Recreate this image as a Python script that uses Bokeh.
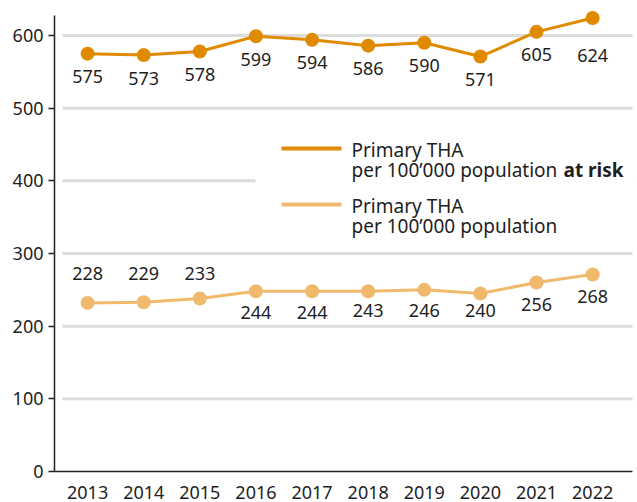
from bokeh.plotting import figure
from bokeh.models import Range1d
from bokeh.embed import file_html
from bokeh.resources import INLINE
from bokeh.core.properties import value

# ---- data ----
years = [2013, 2014, 2015, 2016, 2017, 2018, 2019, 2020, 2021, 2022]
at_risk = [575, 573, 578, 599, 594, 586, 590, 571, 605, 624]
population = [232, 233, 238, 248, 248, 248, 250, 245, 260, 271]
population_labels = ["228", "229", "233", "244", "244", "243", "246", "240", "256", "268"]
y_ticks = [0, 100, 200, 300, 400, 500, 600]
legend_line1 = "Primary THA"
legend_risk_a = "per 100\u2019000 population"
legend_risk_b = "at risk"
legend_pop = "per 100\u2019000 population"

# ---- style ----
DARK = "#E08A00"
LIGHT = "#F0B96C"
GRID = "#DCDCDC"
TXT = "#1E1E1E"
FONT = "Noto Sans"
FS = "18px"
LFS = "19px"

W, H = 637, 502
FL, FR, FT, FB = 54, 632, 0, 471        # frame edges, canvas px
AXIS_TOP = 627.5                          # top of drawn y axis (value)
PX_PER_UNIT = (471 - 15) / AXIS_TOP
X0, X1 = 2012.41, 2022.71
Y0, Y1 = 0, (FB - FT) / PX_PER_UNIT

def X(px):
    return X0 + (px - FL) * (X1 - X0) / (FR - FL)

def Y(py):
    return Y0 + (FB - py) / PX_PER_UNIT

p = figure(width=W, height=H, output_backend="svg", toolbar_location=None,
           x_range=Range1d(X0, X1), y_range=Range1d(Y0, Y1),
           min_border_left=FL, min_border_right=W - FR,
           min_border_top=FT, min_border_bottom=H - FB)
p.outline_line_color = None
p.xgrid.visible = False
p.ygrid.visible = False
p.background_fill_color = "white"

# grid lines
gy = [t for t in y_ticks if t > 0]
p.segment(x0=[X(62)] * len(gy), x1=[X(634)] * len(gy), y0=gy, y1=gy,
          line_color=GRID, line_width=3)

# legend background box (covers grid)
p.quad(left=[X(255)], right=[X(640)], top=[Y(128)], bottom=[Y(240)],
       fill_color="white", line_color=None)

# series
p.line(years, at_risk, line_color=DARK, line_width=3)
p.scatter(years, at_risk, size=14, fill_color=DARK, line_color=None)
p.line(years, population, line_color=LIGHT, line_width=3)
p.scatter(years, population, size=14, fill_color=LIGHT, line_color=None)

# value labels
dark_off = [23] * len(years)
dark_off[-1] = 37
p.text(x=years, y=at_risk, text=[str(v) for v in at_risk], y_offset=dark_off,
       text_align="center", text_baseline="middle", text_font=value(FONT),
       text_font_size=FS, text_color=TXT)
light_off = [-29, -29, -25, 21, 21, 19, 21, 17, 22, 22]
p.text(x=years, y=population, text=population_labels, y_offset=light_off,
       text_align="center", text_baseline="middle", text_font=value(FONT),
       text_font_size=FS, text_color=TXT)

# legend
p.segment(x0=[X(281), X(281)], x1=[X(341), X(341)], y0=[Y(148), Y(204)],
          y1=[Y(148), Y(204)], line_color=[DARK, LIGHT], line_width=4)
p.text(x=[X(351)] * 4, y=[Y(149), Y(169), Y(205), Y(225)],
       text=[legend_line1, legend_risk_a, legend_line1, legend_pop],
       text_align="left", text_baseline="middle", text_font=value(FONT),
       text_font_size=LFS, text_color=TXT)
p.text(x=[X(563)], y=[Y(169)], text=[legend_risk_b], text_align="left",
       text_baseline="middle", text_font=value(FONT), text_font_size=LFS,
       text_font_style="bold", text_color=TXT)

# axes
for ax in (p.xaxis, p.yaxis):
    ax.axis_line_color = "#222222"
    ax.axis_line_width = 1.5
    ax.major_tick_line_color = "#222222"
    ax.major_tick_line_width = 1.5
    ax.minor_tick_line_color = None
    ax.major_tick_in = 0
    ax.major_label_text_font = FONT
    ax.major_label_text_font_size = FS
    ax.major_label_text_color = TXT

p.yaxis.ticker = y_ticks
p.yaxis.bounds = (0, AXIS_TOP)
p.yaxis.major_tick_out = 6
p.yaxis.major_label_standoff = 5
p.xaxis.ticker = years
p.xaxis.major_tick_out = 0
p.xaxis.major_label_standoff = 14

open("out.html", "w").write(file_html(p, INLINE))
